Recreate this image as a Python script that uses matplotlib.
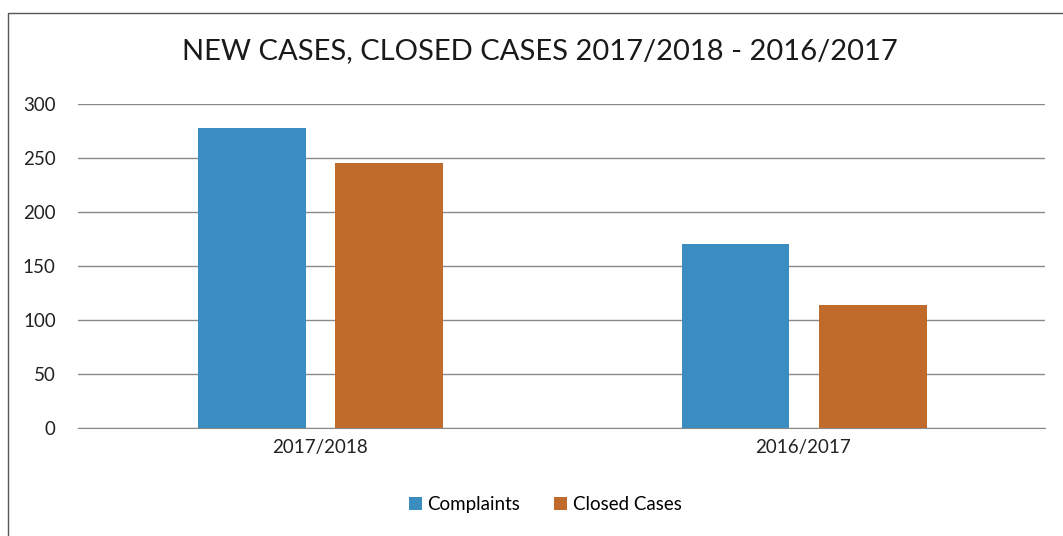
import numpy as np
import matplotlib.pyplot as plt
from matplotlib.patches import Rectangle

periodos = ["2017/2018", "2016/2017"]
complaints = [278, 170]
closed_cases = [245, 114]
y_ticks = [0, 50, 100, 150, 200, 250, 300]

plt.rcParams['font.family'] = ['Lato', 'DejaVu Sans']

fig = plt.figure(figsize=(10.63, 5.36), dpi=100)
ax = fig.add_axes([78 / 1063, 108 / 536, 967 / 1063, 324 / 536])

x = np.arange(len(periodos))
largura = 0.223
ax.bar(x - 0.140, complaints, width=largura, color='#3a8cc1', label='Complaints', zorder=3)
ax.bar(x + 0.144, closed_cases, width=largura, color='#c06a2b', label='Closed Cases', zorder=3)

ax.set_xlim(-0.5, 1.5)
ax.set_ylim(0, 300)
ax.set_yticks(y_ticks)
ax.set_xticks(x)
ax.set_xticklabels(periodos)
ax.tick_params(axis='both', length=0, labelsize=13.5, colors='#222222')
ax.tick_params(axis='y', pad=16)
ax.tick_params(axis='x', pad=8)
ax.grid(axis='y', color='#8a8a8a', linewidth=1, zorder=0)
ax.set_axisbelow(True)
for lado in ['top', 'right', 'left']:
    ax.spines[lado].set_visible(False)
ax.spines['bottom'].set_color('#8a8a8a')

fig.text(0.508, 0.905, "NEW CASES, CLOSED CASES 2017/2018 - 2016/2017",
         ha='center', va='center', fontsize=21, color='#1a1a1a')

fig.legend(loc='center', bbox_to_anchor=(0.513, 0.058), ncol=2, frameon=False,
           fontsize=13.5, handlelength=0.7, handleheight=0.7, handletextpad=0.3,
           columnspacing=1.8)

# moldura do gráfico
fig.add_artist(Rectangle((8 / 1063, -0.05), 1.2, (536 - 13) / 536 + 0.05,
                         transform=fig.transFigure, fill=False,
                         edgecolor='#555555', linewidth=1))

fig.savefig("out.png", dpi=100)
